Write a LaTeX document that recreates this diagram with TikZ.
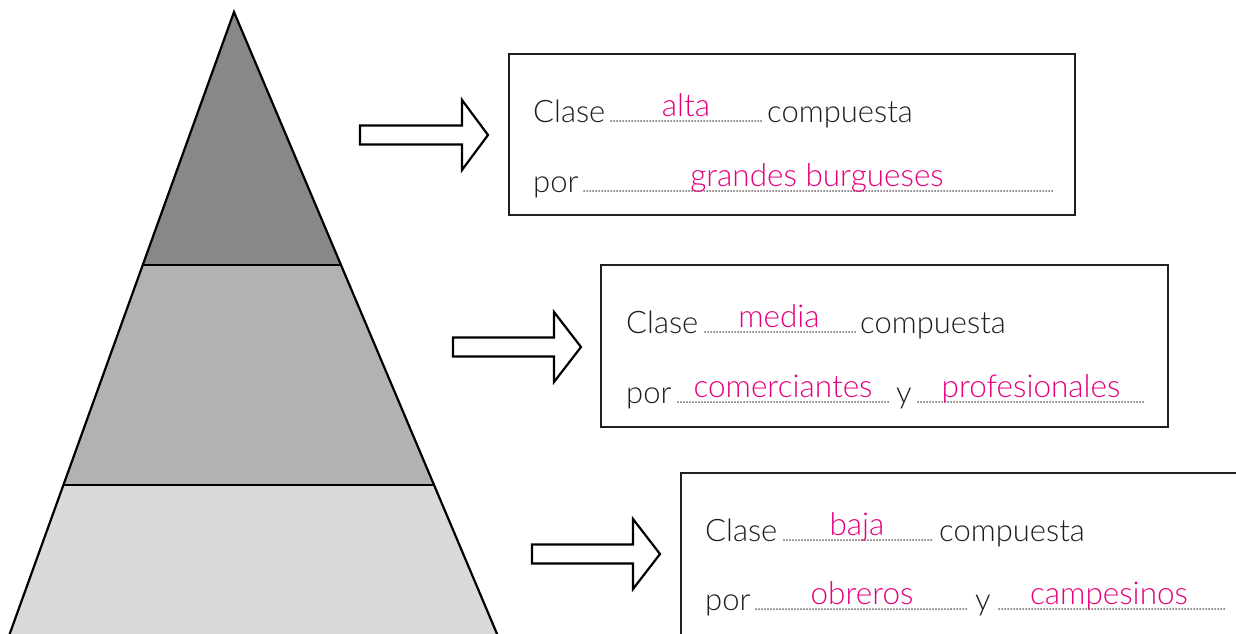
\documentclass[tikz,border=0pt]{standalone}
\usepackage{fontspec}
\setmainfont{Lato}[UprightFont={* Light}]
\definecolor{txtgray}{RGB}{30,30,30}
\definecolor{magentaA}{RGB}{230,0,126}
\definecolor{dotgray}{RGB}{105,105,105}
\definecolor{framec}{RGB}{35,31,32}
\definecolor{bandA}{RGB}{135,136,138}
\definecolor{bandB}{RGB}{177,178,180}
\definecolor{bandC}{RGB}{217,218,220}
\newcommand{\blkarrow}[4]{% x0, x1 (shaft end), ym, tip x
  \draw[blockarrow] (#1,#3-9.5) -- (#2,#3-9.5) -- (#2,#3-35) -- (#4,#3) -- (#2,#3+35) -- (#2,#3+9.5) -- (#1,#3+9.5) -- cycle;}
\tikzset{
  txt/.style={font=\fontsize{31}{36}\selectfont, text=txtgray, inner sep=0pt, anchor=base west},
  ans/.style={font=\fontsize{31.5}{36}\selectfont, text=magentaA, inner sep=0pt, anchor=base},
  dotline/.style={draw=dotgray, line width=2pt, line cap=round, dash pattern=on 0pt off 3pt},
  blockarrow/.style={draw=black, line width=2.2pt, fill=white, line join=miter},
  framebox/.style={draw=framec, line width=2.6pt},
  outline/.style={draw=black, line width=2.2pt},
}
\begin{document}
\begin{tikzpicture}[x=1pt,y=-1pt]
\useasboundingbox (0,0) rectangle (1236,633);
\clip (0,0) rectangle (1236,633);
% pyramid
\coordinate (apex) at (234,12);
\coordinate (l1) at (142.9,265); \coordinate (r1) at (341,265);
\coordinate (l2) at (63.7,485);  \coordinate (r2) at (434,485);
\coordinate (l3) at (7.5,640);   \coordinate (r3) at (499.6,640);
\fill[bandA] (apex) -- (r1) -- (l1) -- cycle;
\fill[bandB] (l1) -- (r1) -- (r2) -- (l2) -- cycle;
\fill[bandC] (l2) -- (r2) -- (r3) -- (l3) -- cycle;
\draw[outline, line join=miter] (l3) -- (apex) -- (r3);
\draw[outline, line width=1.8pt] (l1) -- (r1);
\draw[outline, line width=1.8pt] (l2) -- (r2);
% arrows
\blkarrow{360}{462}{135}{488}
\blkarrow{453}{554}{347}{581}
\blkarrow{532}{633}{554}{660}
% boxes
\draw[framebox] (509,54) rectangle (1075,215);
\draw[framebox] (601,265) rectangle (1168,427);
\draw[framebox] (681,473) rectangle (1260,660);
% box 1
\node[txt] (c1) at (533,122) {Clase};
\draw[dotline] (611,121) -- (762,121);
\node[ans] (a1) at (686,116) {alta};
\node[txt] (p1) at (767,122) {compuesta};
\node[txt] (q1) at (533,192) {por};
\draw[dotline] (584,191) -- (1052,191);
\node[ans] (g1) at (817,186) {grandes burgueses};
% box 2
\node[txt] (c2) at (626,333) {Clase};
\draw[dotline] (705,332) -- (855,332);
\node[ans] (a2) at (779,327) {media};
\node[txt] (p2) at (860,333) {compuesta};
\node[txt] (q2) at (626,403) {por};
\draw[dotline] (678,402) -- (890,402);
\node[ans] (g2) at (783,397) {comerciantes};
\node[txt] (y2) at (896,403) {y};
\draw[dotline] (918,402) -- (1145,402);
\node[ans] (h2) at (1031,397) {profesionales};
% box 3
\node[txt] (c3) at (705,541) {Clase};
\draw[dotline] (784,540) -- (933,540);
\node[ans] (a3) at (857,535) {baja};
\node[txt] (p3) at (939,541) {compuesta};
\node[txt] (q3) at (705,610) {por};
\draw[dotline] (756,609) -- (968,609);
\node[ans] (g3) at (862,604) {obreros};
\node[txt] (y3) at (975,610) {y};
\draw[dotline] (999,609) -- (1225,609);
\node[ans] (h3) at (1109,604) {campesinos};
\end{tikzpicture}
\end{document}
